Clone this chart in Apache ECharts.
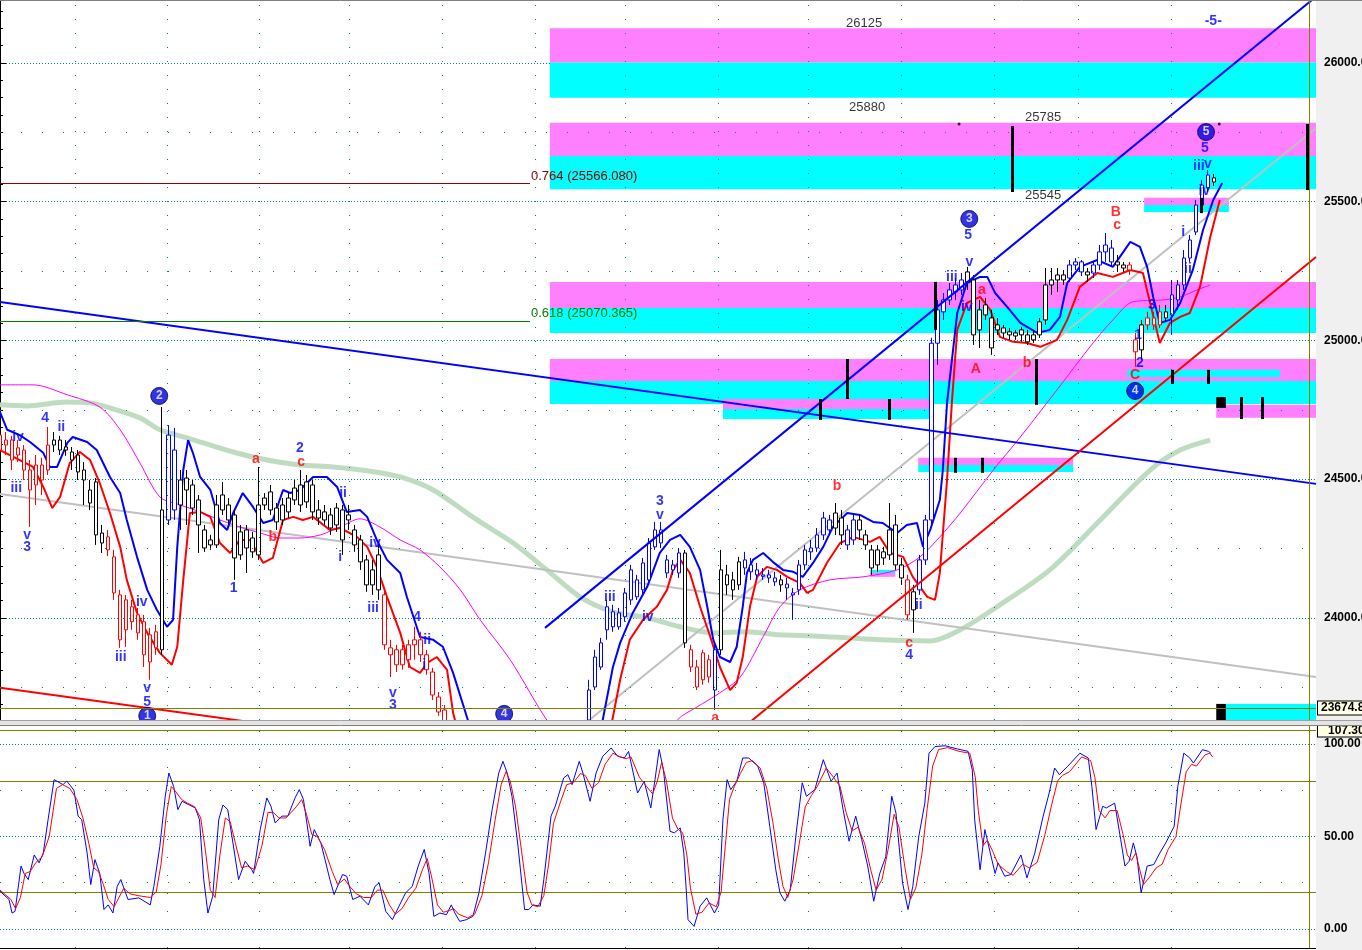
<!DOCTYPE html>
<html><head><meta charset="utf-8">
<script src="https://cdn.jsdelivr.net/npm/echarts@6/dist/echarts.min.js"></script>
<style>html,body{margin:0;padding:0;background:#fff;overflow:hidden}#c{width:1362px;height:950px}</style>
</head><body><div id="c"></div>
<script>
// ---------------- DATA ----------------
const N_BARS = 220;
// [open, close, low, high] per bar
const ohlc = [
[24659,24605,24577,24685],[24623,24641,24587,24670],[24641,24569,24533,24656],[24587,24613,24562,24641],[24605,24533,24497,24623],
[24533,24461,24328,24569],[24479,24551,24407,24587],[24551,24497,24443,24577],[24533,24623,24515,24688],[24623,24641,24598,24670],
[24641,24605,24587,24656],[24605,24616,24584,24641],[24598,24569,24533,24616],[24587,24526,24497,24605],[24533,24497,24407,24562],
[24461,24414,24389,24497],[24299,24490,24263,24504],[24306,24270,24234,24335],[24292,24245,24223,24317],[24090,24220,24065,24245],
[24083,23921,23892,24101],[24065,23957,23896,24083],[24040,23986,23957,24065],[24011,23946,23921,24036],[23986,23867,23823,24011],
[23939,23841,23777,23964],[23950,23892,23867,23975],[23885,24389,23867,24760],[24353,24659,24335,24695],[24389,24605,24353,24685],
[24497,24407,24317,24533],[24504,24461,24335,24533],[24479,24396,24371,24497],[24425,24335,24234,24443],[24317,24252,24238,24335],
[24263,24281,24245,24299],[24263,24407,24252,24443],[24443,24389,24371,24490],[24407,24353,24335,24432],[24371,24216,24137,24389],
[24227,24310,24209,24335],[24317,24252,24162,24335],[24238,24288,24216,24310],[24227,24407,24209,24544],[24407,24432,24389,24450],
[24454,24389,24371,24479],[24396,24346,24317,24414],[24353,24407,24335,24432],[24382,24432,24360,24454],[24425,24468,24407,24497],
[24479,24407,24382,24533],[24418,24490,24396,24515],[24479,24382,24353,24497],[24389,24360,24335,24425],[24382,24353,24335,24407],
[24371,24324,24299,24396],[24335,24396,24310,24414],[24389,24281,24227,24407],[24353,24371,24317,24407],[24317,24263,24238,24335],
[24281,24202,24173,24299],[24209,24119,24094,24227],[24119,24173,24083,24209],[24227,24101,24065,24263],[24083,23903,23885,24101],
[23892,23867,23787,23921],[23885,23831,23805,23903],[23831,23885,23813,23903],[23849,23903,23820,23921],[23903,23921,23849,23968],
[23921,23867,23841,23950],[23867,23813,23795,23885],[23805,23722,23704,23820],[23715,23661,23647,23733],[23668,23614,23596,23686],
[23610,23560,23540,23620],[23560,23520,23490,23580],[23520,23470,23450,23540],[23470,23430,23400,23490],[23430,23390,23360,23450],
[23390,23350,23320,23410],[23350,23320,23290,23370],[23320,23290,23260,23340],[23290,23270,23240,23310],[23270,23250,23220,23290],
[23250,23280,23230,23300],[23280,23300,23260,23320],[23300,23290,23270,23330],[23290,23330,23280,23350],[23330,23360,23310,23380],
[23360,23400,23340,23420],[23400,23430,23380,23450],[23430,23470,23410,23490],[23470,23500,23450,23520],[23500,23540,23480,23560],
[23540,23570,23520,23590],[23570,23600,23550,23620],[23590,23615,23570,23625],[23632,23740,23614,23777],[23751,23859,23740,23885],
[23823,23910,23813,23928],[23957,24040,23921,24065],[24022,23968,23950,24047],[23968,24018,23957,24036],[24004,24090,23986,24108],
[24065,24173,24047,24191],[24137,24076,24065,24155],[24101,24198,24083,24216],[24137,24270,24119,24288],[24256,24317,24245,24346],
[24317,24270,24252,24346],[24209,24162,24144,24227],[24191,24173,24155,24209],[24162,24234,24144,24252],[24234,23910,23892,24245],
[23885,23823,23805,23903],[23823,23751,23740,23849],[23777,23874,23759,23885],[23849,23787,23766,23867],[23740,23885,23668,23903],
[23885,24173,23867,24245],[24155,24119,24083,24191],[24137,24101,24065,24166],[24119,24202,24101,24220],[24209,24180,24155,24238],
[24191,24166,24137,24216],[24173,24155,24137,24198],[24155,24150,24137,24180],[24155,24144,24126,24173],[24144,24130,24115,24166],
[24137,24119,24094,24155],[24122,24108,24065,24144],[24083,24090,23993,24108],[24101,24191,24083,24209],[24191,24245,24173,24263],
[24238,24252,24209,24281],[24252,24299,24238,24324],[24299,24360,24281,24382],[24353,24317,24299,24371],[24324,24378,24299,24414],
[24360,24299,24263,24389],[24317,24263,24245,24335],[24281,24353,24263,24371],[24353,24317,24281,24371],[24299,24263,24245,24317],
[24245,24180,24155,24263],[24191,24245,24166,24263],[24238,24216,24191,24256],[24227,24317,24209,24414],[24335,24191,24173,24371],
[24191,24144,24119,24216],[24137,24011,23993,24155],[24029,24094,23946,24119],[24101,24209,24083,24227],[24209,24353,24191,24371],
[24353,24990,24335,25010],[24990,25110,24912,25146],[25103,25146,25074,25171],[25146,25182,25128,25207],[25175,25200,25146,25225],
[25182,25218,25164,25243],[25211,25247,25182,25265],[25218,25020,24984,25236],[25038,25110,24973,25146],[25128,25092,25074,25153],
[25081,24973,24948,25110],[25038,25056,25020,25081],[25045,25027,25009,25056],[25031,25020,25002,25045],[25027,25016,25002,25038],
[25020,25038,24995,25049],[25020,24995,24984,25038],[25002,25020,24991,25038],[25020,25067,25009,25081],[25074,25200,25056,25261],
[25200,25218,25164,25261],[25218,25236,25175,25261],[25236,25218,25200,25254],[25225,25272,25211,25290],[25272,25283,25254,25297],
[25283,25247,25232,25290],[25247,25236,25211,25261],[25243,25272,25225,25283],[25272,25319,25254,25344],[25319,25344,25283,25387],
[25333,25283,25268,25362],[25283,25272,25247,25308],[25272,25261,25247,25283],[25272,25254,25236,25283],[25002,24959,24905,25027],
[24966,25056,24930,25074],[25056,25081,25038,25103],[25081,25056,25038,25103],[25056,25103,25045,25128],[25103,25081,25067,25128],
[25092,25164,25020,25218],[25146,25200,25110,25218],[25200,25297,25182,25326],[25297,25362,25283,25380],[25391,25488,25380,25506],
[25488,25560,25459,25578],[25550,25596,25535,25614],[25586,25571,25557,25600]
];
// trend state runs: R = down-trend, K = neutral, B = up-trend
const trendRuns = [['R',9],['K',9],['R',9],['K',1],['B',2],['K',34],['R',25],['B',25],['K',1],['R',4],['B',1],['K',4],
  ['B',6],['K',1],['B',8],['K',2],['B',2],['K',8],['R',1],['K',1],['B',8],['K',17],['B',3],['K',1],['B',4],['K',2],
  ['R',2],['K',1],['R',3],['K',1],['B',7]];

// overlays: [bar, price]
const upperEnv = [[0,24742],[1.2,24678],[3.3,24659],[5,24634],[7.2,24595],[8.3,24544],[9.5,24544],[11.2,24631],[12.1,24652],[14.5,24634],[16.1,24605],[18.3,24508],[20,24450],[21.1,24353],[22.8,24220],[24.5,24101],[26.1,24029],[27.8,23968],[28.8,23993],[29.5,24256],[30.5,24533],[31.3,24641],[32.1,24595],[33.3,24508],[35,24461],[36.6,24342],[37.8,24317],[38.8,24378],[40.4,24450],[42.1,24400],[43.8,24342],[45.4,24353],[47.1,24461],[48.3,24450],[49.9,24461],[52.1,24508],[54.4,24508],[56.1,24472],[57.7,24382],[59.9,24389],[61.1,24364],[62.7,24281],[64.4,24209],[66.6,24162],[67.7,24076],[69.9,23931],[72.1,23921],[73.7,23896],[75.4,23802],[77.7,23643],[79.9,23488],[88.2,23344],[96.5,23488],[100.3,23632],[102,23823],[103.2,23910],[105.3,24018],[107.7,24112],[109.8,24234],[111.5,24281],[113.2,24299],[114.8,24256],[116.5,24173],[117.7,24040],[118.7,23921],[119.8,23859],[121.5,23841],[122.6,23896],[123.6,24040],[124.3,24162],[125.3,24209],[127,24234],[128.6,24202],[130.3,24173],[132,24166],[133.6,24148],[135.3,24198],[137,24256],[138.6,24328],[141,24378],[143.1,24371],[145.3,24346],[146.9,24342],[149.3,24306],[150.9,24335],[152.6,24342],[153.6,24256],[154.8,24317],[156.4,24425],[156.9,24533],[157.6,24775],[159.3,25099],[160.9,25207],[163.1,25229],[164.3,25229],[165.6,25171],[167.6,25121],[169.8,25063],[172.6,25027],[174.7,25038],[176.4,25085],[177.6,25207],[179.7,25265],[182.6,25290],[185.2,25265],[188.1,25355],[189.7,25337],[190.9,25265],[191.9,25157],[193,25063],[194.7,25074],[196.4,25135],[198.5,25254],[200.2,25398],[201.9,25506],[203.4,25568]];
const lowerEnv = [[0,24605],[3.3,24569],[5.5,24544],[7.2,24472],[8.7,24396],[10,24436],[11.6,24558],[13.3,24598],[15,24569],[16.6,24486],[18.3,24378],[20,24256],[21.1,24137],[22.8,24018],[24.5,23946],[26.6,23874],[28.6,23831],[29.5,23896],[30.5,24137],[31.6,24378],[33.3,24382],[35,24364],[36.6,24270],[38.3,24234],[39.9,24281],[41.6,24281],[43.8,24198],[45.4,24216],[47.1,24353],[48.8,24364],[50.4,24353],[52.1,24364],[54.9,24317],[56.6,24324],[59.4,24292],[61.1,24256],[62.7,24184],[64.4,24076],[66.6,23946],[68.2,23823],[69.9,23802],[71.1,23838],[72.7,23859],[74.4,23813],[75.4,23658],[77.4,23488],[88.2,23308],[98.2,23452],[101.9,23632],[103.2,23777],[104.8,23921],[107,23993],[109.3,24040],[111,24101],[112,24173],[113.2,24209],[114.8,24162],[116.5,24040],[118.2,23932],[119.8,23823],[121.5,23740],[122.6,23766],[123.6,23859],[124.8,24040],[126,24148],[127.6,24184],[129.3,24173],[131,24148],[133.1,24126],[134.3,24090],[135.3,24101],[137.6,24198],[139.8,24270],[142,24292],[144.8,24274],[146.4,24292],[148.1,24234],[150.3,24220],[151.9,24148],[154.3,24076],[155.6,24065],[156.4,24162],[157.6,24497],[158.4,24775],[159.3,25038],[160.9,25135],[163.1,25157],[164.8,25110],[166.4,25013],[168.6,24995],[170.9,24991],[173.1,24977],[175.9,25002],[177.6,25074],[179.7,25193],[182.6,25243],[185.2,25229],[188.1,25254],[190.2,25243],[191.4,25135],[193,24991],[194.7,25063],[196.4,25085],[198,25099],[199.7,25193],[201.4,25373],[203,25506]];
const slowMA = [[0,24840],[5.5,24840],[11.2,24804],[16.6,24760],[20,24678],[23.3,24558],[26.6,24436],[30,24407],[33.3,24382],[36.6,24353],[39.9,24328],[43.3,24306],[46.6,24288],[49.9,24288],[53.3,24299],[56.6,24328],[59.9,24357],[63.2,24328],[66.6,24281],[69.9,24245],[73.2,24184],[76.6,24101],[79.9,23993],[84.9,23849],[91,23632],[99.8,23380],[108.2,23488],[112.7,23632],[116,23679],[119.8,23730],[123.2,23787],[127,23932],[129.8,24040],[133.1,24101],[138.1,24137],[143.6,24148],[149.3,24173],[153.1,24220],[156.4,24292],[159.8,24378],[165.3,24533],[169.8,24652],[175.9,24822],[181.9,24991],[185.2,25074],[188.5,25139],[193.5,25146],[196.4,25157],[199.2,25182],[201.4,25200]];
const longMA = [[0,24768],[4.5,24764],[11.1,24778],[15,24775],[18.3,24757],[23.3,24721],[26.6,24678],[31.1,24649],[38.8,24598],[44.4,24569],[49.9,24551],[55.4,24544],[61.1,24530],[66.6,24508],[72.1,24461],[77.7,24378],[79.9,24346],[85.4,24270],[91,24173],[96.5,24076],[102,24022],[107.7,24000],[113.2,23968],[118.7,23946],[124.3,23950],[129.8,23939],[135.3,23935],[141,23928],[146.4,23921],[154.8,23917],[159.8,23957],[166.4,24047],[174.7,24173],[183.1,24353],[191.4,24533],[196.4,24605],[201.4,24641]];

const grayDown = [[0,24447],[219,23787]];
const grayUp = [[93.2,23546],[219,25766]];
const blueDown = [[0,25139],[219,24483]];
const blueUp = [[90.7,23964],[219,26239]];
const redUp = [[123.1,23594],[219,25301]];
const redDown = [[0,23748],[41.6,23625]];

const fibLevels = [[25566.080,'0.764'],[25070.365,'0.618']];
const fibEndBar = 88.2;
const lastPrice = 23674.85;
const stochMaxLevel = 107.3;
const cursorBar = 217.8;

// zones: [barFrom, barTo, priceTop, priceBottom, kind]
const zones = [
[91.5,219,26125,26002,'pink'],[91.5,219,26002,25875,'cyan'],
[91.5,219,25785,25665,'pink'],[91.5,219,25665,25545,'cyan'],
[91.5,219,25211,25117,'pink'],[91.5,219,25117,25027,'cyan'],
[91.5,219,24933,24854,'pink'],[91.5,219,24854,24771,'cyan'],
[120.3,154.8,24789,24753,'pink'],[120.3,154.8,24753,24717,'cyan'],
[202.4,219,24768,24721,'pink'],
[152.8,178.6,24577,24551,'pink'],[152.8,178.6,24551,24526,'cyan'],
[190.4,204.5,25514,25488,'pink'],[190.4,204.5,25488,25463,'cyan'],
[187.6,213,24894,24868,'cyan'],
[144.8,149,24173,24162,'cyan'],[144.8,149,24162,24148,'pink'],
[204,219,23690,23610,'cyan'],
[202.4,204,24796,24757,'black'],[202.4,204,23690,23610,'black']
];
// [bar, priceTop, priceBottom]
const markerBars = [[168.4,25773,25535],[217.5,25780,25542],[141,24933,24789],[136.5,24789,24714],[148,24789,24714],
  [155.6,25211,25038],[172.4,24933,24768],[158.9,24577,24523],[163.4,24577,24523],[195,24894,24843],[201,24894,24843],
  [206.5,24796,24717],[210,24796,24717],[199.9,25514,25459]];
const dots = [[159.6,25780],[202.9,25780]];
const priceNotes = [[143.8,26144,'26125'],[144.3,25841,'25880'],[173.6,25805,'25785'],[173.6,25521,'25545']];

const waveLabels = [
[3,24652,'iv','b'],[7.5,24721,'4','b'],[10.2,24688,'ii','b'],[2.7,24468,'iii','b'],[4.5,24299,'v','b'],[4.5,24256,'3','b'],
[23.6,24058,'iv','b'],[20.1,23859,'iii','b'],[24.5,23748,'v','b'],[24.5,23697,'5','b'],
[42.6,24573,'a','r'],[49.9,24613,'2','b'],[50.1,24562,'c','r'],[45.4,24292,'b','r'],[38.9,24108,'1','b'],
[57.1,24450,'ii','b'],[56.6,24220,'i','b'],[62.4,24270,'iv','b'],[62.1,24036,'iii','b'],[69.4,24004,'4','b'],
[71.1,23921,'ii','b'],[70.6,23831,'i','b'],[65.4,23730,'v','b'],[65.4,23686,'3','b'],
[101.5,24076,'iii','b'],[107.8,24004,'iv','b'],[109.8,24422,'3','b'],[109.8,24371,'v','b'],[119,23640,'a','r'],
[139.3,24476,'b','r'],[151.3,23910,'c','r'],[151.3,23867,'4','b'],[152.9,24047,'ii','b'],
[161.1,25380,'5','b'],[161.3,25283,'v','b'],[158.4,25229,'iii','b'],[163.4,25182,'a','r'],[160.9,25121,'iv','b'],
[162.4,24897,'A','r'],[170.9,24919,'b','r'],[185.7,25463,'B','r'],[185.9,25416,'c','r'],
[196.9,25391,'i','b'],[197.7,25258,'ii','b'],[189.4,25020,'1','b'],[189.7,24919,'2','b'],[188.9,24876,'C','r'],
[191.7,25128,'3','b'],[200.5,25694,'5','b'],[199.5,25629,'iii','b'],[201,25636,'v','b'],[200.4,25539,'iv','b'],
[201.9,26151,'-5-','b']
];
const circled = [[24.5,23647,'1'],[26.5,24800,'2'],[83.9,23654,'4'],[161.3,25438,'3'],[188.9,24818,'4'],[200.7,25751,'5']];

const gridBars = [12.6,27.8,43.1,58.1,73.6,89,104,119.5,134.5,150,165.4,179.4,194.9];
const priceMidLevels = [23750,24250,24750,25250,25750];

// stochastic %K / %D: [bar, value]
const stochK = [[0,20.4],[1.5,15.9],[2,8.6],[2.5,9.5],[3.5,34],[4,30],[4.7,26.7],[5.7,40],[6.5,35.7],[7.2,41],[8,59],[9,80.7],[9.2,81.6],[10.5,78],[11.1,80],[12.3,75],[13,61],[13.6,59],[14.5,41],[15.1,24],[15.8,37.5],[16.6,30],[17.3,10.5],[18,13],[18.8,8.6],[19.5,23],[20.1,26.7],[21.3,15.9],[23.1,16.8],[25,13],[25.6,23],[26.6,44.7],[27.5,71.7],[28.1,84.3],[28.9,77],[29.6,64.5],[30.3,69],[31.5,67],[32.5,65.4],[33.2,59],[33.9,26.7],[34.6,8.6],[35.4,17.7],[36.4,59],[37.1,67],[37.9,64.5],[38.6,50],[39.7,26.7],[40.8,36.6],[41.9,32],[42.2,30],[43.3,53.7],[44.4,70.8],[45.1,66.3],[45.8,57.3],[46.9,61],[47.9,61],[49.1,70.8],[49.8,75.3],[50.5,70],[51.3,52],[51.6,44.7],[52.3,53.7],[53.4,46.5],[54.9,26.7],[55.6,18.6],[57,29.4],[57.7,28.5],[58.7,15.9],[59.9,17.7],[61.3,13],[62.4,23],[63.1,24.9],[64.2,9.5],[65.3,5],[66.4,12.3],[67.5,19.5],[68.6,23],[69.6,34],[70.6,43],[71.4,30],[72.2,6.8],[73.2,8.6],[74.3,7.7],[75.1,13],[75.7,8.6],[76.5,4.1],[77.6,5],[78.7,6.8],[79.7,19.5],[80.8,41],[81.9,64.5],[83,84.3],[83.7,90.6],[84.4,84.3],[85.2,71.7],[86.2,44.7],[87.3,10.5],[88,10.5],[88.7,13],[89.9,12.3],[90.5,26.7],[91.7,61],[92.4,66.3],[93.8,81.6],[94.5,83.4],[95.2,78],[96.4,90.6],[97,84.3],[98.2,69],[99.2,84.3],[100.3,93.3],[101.7,97.8],[102.8,93.3],[103.9,92.4],[104.6,96],[106.1,73.5],[107.2,79.8],[108.3,65.4],[109,80.7],[109.7,97],[110.4,86],[111.5,52.8],[112.2,51.9],[113.2,54.6],[113.8,41],[114.2,21],[114.5,5],[115.5,1.4],[116.5,12.3],[117.6,16.8],[118.9,8.6],[119.6,13],[120.3,59],[121,80.7],[121.6,75.3],[122.6,79.8],[123.6,92.4],[124.6,92.4],[126.1,88],[127.1,79],[128.1,55.5],[129.1,32],[129.8,19.5],[130.6,15],[131.5,21],[132.5,51.9],[133.5,79],[134.2,71.7],[135.6,75.3],[137,91.5],[138.3,79.8],[139.3,84.3],[140.3,64.5],[141.3,47.4],[142.4,61],[143.4,48.3],[144.4,34],[145.4,15],[146.4,30],[147.4,39],[148.4,71.7],[149.1,62.7],[150.2,24.9],[151.1,10.5],[151.9,23],[152.9,50],[153.9,68],[154.6,95],[155.6,98.6],[157.3,99],[159.3,97.3],[161.1,96],[161.8,86],[162.2,59],[163.1,32],[163.9,53.7],[164.8,41],[165.6,30],[166.1,35.7],[167.2,28.5],[168.2,29.4],[169.9,40],[170.9,27.6],[172.2,41],[173.6,61],[174.6,73.5],[175.5,87],[176.3,83.4],[177.7,88],[179.7,95],[181.1,92.4],[181.7,77],[182.4,53.7],[183.5,66.3],[184.1,65.4],[185.5,68],[186.5,48.3],[187.2,34],[187.9,36.6],[188.6,46.5],[189.2,39],[189.9,19.5],[190.9,34],[192,34.8],[193,41],[194,46.5],[195.4,55.5],[196,77],[197,95],[198,92.4],[198.6,89.7],[200.1,96.9],[201.1,96],[201.5,95]];
const stochD = [[0,21],[1.8,16],[2.6,11],[3.4,17],[4.2,30],[5,31],[6,36],[7,39],[8.2,50],[9.4,76],[10.4,78],[11.6,76],[12.8,70],[13.8,60],[14.8,46],[15.6,33],[16.4,31],[17.2,24],[18,16],[19,12],[19.8,17],[20.6,22],[21.6,19],[23,18],[25,17],[26,20],[26.8,35],[27.7,62],[28.5,77],[29.3,74],[30.2,70],[31.2,68],[32.4,66],[33.4,60],[34.2,42],[35,21],[35.8,17],[36.6,40],[37.5,60],[38.3,58],[39.2,46],[40.2,33],[41.2,34],[42.4,32],[43.6,45],[44.6,63],[45.5,63],[46.4,60],[47.6,60],[49.3,66],[50.2,70],[51,62],[51.9,51],[52.8,50],[54,43],[55.3,31],[56.2,24],[57.3,27],[58.2,23],[59.3,19],[60.5,17],[61.8,17],[62.8,21],[63.7,21],[64.8,13],[65.8,8],[66.9,11],[68,17],[69.2,22],[70.3,32],[71.1,38],[71.9,27],[72.8,13],[73.8,9],[74.8,10],[75.5,11],[76.3,8],[77.8,6],[79,8],[80.2,18],[81.3,36],[82.4,59],[83.4,78],[84.2,85],[84.9,80],[85.8,66],[86.8,42],[87.7,20],[88.5,13],[89.5,12],[90.5,18],[91.3,35],[92.1,57],[93.2,68],[94.3,78],[95.4,79],[96.6,84],[97.4,83],[98.5,76],[99.6,79],[100.7,89],[102,95],[103.2,93],[104.2,92],[105,93],[106.4,82],[107.6,77],[108.6,73],[109.4,80],[110.1,90],[110.9,80],[111.9,60],[112.8,54],[113.6,52],[114.3,40],[114.9,22],[115.8,8],[116.8,9],[118,14],[119.2,12],[120,20],[120.7,45],[121.4,70],[122.2,77],[123.2,84],[124.2,90],[125.2,91],[126.5,87],[127.6,76],[128.6,58],[129.5,38],[130.3,23],[131.1,17],[132,27],[133,46],[134,66],[135,72],[136,77],[137.5,87],[138.7,82],[139.8,77],[140.8,63],[141.8,53],[142.8,55],[143.9,46],[144.9,32],[145.8,21],[146.8,27],[147.8,43],[148.8,62],[149.6,55],[150.6,33],[151.5,16],[152.4,22],[153.4,40],[154.3,65],[155.2,88],[156.2,97],[157.7,98],[159.6,96],[161.4,95],[162.3,82],[162.8,64],[163.6,45],[164.3,48],[165.2,42],[166.1,35],[167.5,31],[168.6,29],[170.2,35],[171.3,33],[172.6,36],[173.9,51],[175,67],[176,80],[176.8,83],[178,85],[180,93],[181.5,91],[182.2,82],[182.9,64],[183.9,60],[184.7,64],[185.9,64],[186.9,51],[187.6,40],[188.3,37],[189,41],[189.6,33],[190.3,24],[191.3,28],[192.4,33],[193.4,35],[194.4,43],[195.7,50],[196.5,67],[197.4,85],[198.3,89],[199.1,88],[200.5,94],[201.3,95],[201.8,93]];
// overbought / oversold runs [barFrom, barTo]
const stochTopRuns = [[100,113.8],[137.5,142.5],[154.6,163.9],[178.4,182.9],[184.4,188.4],[198.9,201.9]];
const stochBottomRuns = [[0,9.2],[17.1,27.1],[61.6,70.6],[72.1,82.5],[89.5,91]];

// ---------------- STYLE / BUILD ----------------
const FONT = "'Liberation Sans', Arial, sans-serif";
const trendColor = {R:'#ff0000', K:'#000000', B:'#0000ff'};
const zoneColor = {pink:'#ff80ff', cyan:'#00ffff', black:'#000000'};
const labelColor = {b:'#0000ff', r:'#ff0000'};
const TEAL = '#008080', OLIVE = '#808000';

const trend = [];
trendRuns.forEach(([k, n]) => { for (let j = 0; j < n; j++) trend.push(k); });
const bars = Array.from({length: N_BARS}, (_, i) => String(i));
const candleData = ohlc.map((v, i) => {
  const c = trendColor[trend[i]] || '#000';
  return {value: v, itemStyle: {color: '#ffffff', color0: c, borderColor: c, borderColor0: c, borderWidth: 1}};
});

function line(data, color, width, z, smooth) {
  return {type: 'line', xAxisIndex: 1, yAxisIndex: 0, data, symbol: 'none', smooth: smooth || false,
    lineStyle: {color, width}, z, silent: true};
}

const option = {
  animation: false,
  backgroundColor: '#ffffff',
  grid: [
    {left: 0, top: 0, width: 1316, height: 720, containLabel: false, outerBoundsMode: 'none'},
    {left: 0, top: 726, width: 1316, height: 222, containLabel: false, outerBoundsMode: 'none'}
  ],
  xAxis: [
    {type: 'category', gridIndex: 0, data: bars, boundaryGap: false, show: false, position: 'bottom'},
    {type: 'value', gridIndex: 0, min: 0, max: 219, show: false, position: 'top'},
    {type: 'value', gridIndex: 1, min: 0, max: 219, show: false}
  ],
  yAxis: [
    {type: 'value', gridIndex: 0, position: 'right', min: 23632, max: 26227, splitNumber: 5, minInterval: 500, maxInterval: 500,
      axisLine: {show: true, lineStyle: {color: '#000', width: 1}},
      axisTick: {show: true, length: 6, lineStyle: {color: '#000'}},
      minorTick: {show: true, splitNumber: 8, length: 3, lineStyle: {color: '#000'}},
      axisLabel: {margin: 8, color: '#000', fontSize: 12, fontWeight: 'bold', fontFamily: FONT,
        formatter: v => (Math.abs(v % 500) < 1e-6 ? v.toFixed(2) : '')},
      splitLine: {show: true, lineStyle: {color: TEAL, type: [1, 2], width: 1}}},
    {type: 'value', gridIndex: 1, position: 'right', min: -10.3, max: 109.7, splitNumber: 2, minInterval: 50, maxInterval: 50,
      axisLine: {show: true, lineStyle: {color: '#000', width: 1}},
      axisTick: {show: true, length: 6, lineStyle: {color: '#000'}},
      minorTick: {show: true, splitNumber: 10, length: 2, lineStyle: {color: '#000'}},
      axisLabel: {margin: 8, color: '#000', fontSize: 12, fontWeight: 'bold', fontFamily: FONT,
        formatter: v => (Math.abs(v % 50) < 1e-6 ? v.toFixed(2) : '')},
      splitLine: {show: false}}
  ],
  graphic: [
    {type: 'rect', shape: {x: 1316, y: 0, width: 46, height: 950}, style: {fill: '#f0f0f0'}, z: -10, silent: true},
    {type: 'rect', shape: {x: 0, y: 720, width: 1316, height: 230}, style: {fill: '#ffffff'}, z: 3, silent: true},
    {type: 'rect', shape: {x: 0, y: 720, width: 1362, height: 6}, style: {fill: '#e4e4e4'}, z: 7, silent: true},
    {type: 'line', shape: {x1: 0, y1: 720.5, x2: 1362, y2: 720.5}, style: {stroke: '#a0a0a0', lineWidth: 1}, z: 7, silent: true},
    {type: 'line', shape: {x1: 0, y1: 725.5, x2: 1362, y2: 725.5}, style: {stroke: '#808080', lineWidth: 1}, z: 7, silent: true},
    {type: 'line', shape: {x1: 0, y1: 0.5, x2: 1362, y2: 0.5}, style: {stroke: '#808080', lineWidth: 1}, z: 10, silent: true},
    {type: 'line', shape: {x1: 0, y1: 948.5, x2: 1316, y2: 948.5}, style: {stroke: '#000', lineWidth: 1}, z: 10, silent: true}
  ],
  series: [
    // grid dotted lines (main)
    {type: 'line', xAxisIndex: 1, yAxisIndex: 0, data: [], z: 1, silent: true,
      markLine: {silent: true, symbol: ['none', 'none'], label: {show: false},
        data: gridBars.map(b => ({xAxis: b, lineStyle: {color: TEAL, type: [1, 13], width: 1}}))
          .concat(priceMidLevels.map(p => ({yAxis: p, lineStyle: {color: TEAL, type: [1, 20], width: 1}})))}},
    // zones
    {type: 'line', xAxisIndex: 1, yAxisIndex: 0, data: [], z: 1.5, silent: true,
      markArea: {silent: true,
        data: zones.map(([x1, x2, t, b, k]) => [
          {xAxis: x1, yAxis: t, itemStyle: {color: zoneColor[k], opacity: 1, borderWidth: 0}},
          {xAxis: x2, yAxis: b}])}},
    line(longMA, '#c0dcc0', 5, 1.8, 0.3),
    line(grayDown, '#c0c0c0', 2, 1.9),
    line(grayUp, '#c0c0c0', 2, 1.9),
    line(slowMA, '#ff00ff', 1, 2, 0.3),
    line(upperEnv, '#0000ff', 2, 2.05),
    line(lowerEnv, '#ff0000', 2, 2.05),
    {type: 'candlestick', xAxisIndex: 0, yAxisIndex: 0, data: candleData, barWidth: 4, large: false, clip: true, z: 2.2, silent: true},
    // markers, fib lines, price line, cursor line
    {type: 'line', xAxisIndex: 1, yAxisIndex: 0, data: [], z: 2.3, silent: true,
      markLine: {silent: true, symbol: ['none', 'none'], label: {show: false},
        data: markerBars.map(([b, t, bt]) => [
            {coord: [b, t], lineStyle: {color: '#000', width: 3, type: 'solid'}}, {coord: [b, bt]}])
          .concat(fibLevels.map(([p, r], i) => [
            {coord: [0, p], lineStyle: {color: i === 0 ? '#900000' : '#008000', width: 1, type: 'solid'},
              label: {show: true, position: 'end', distance: 1, offset: [0, -7],
                formatter: r + ' (' + p.toFixed(3) + ')', color: i === 0 ? '#800000' : '#008000', fontSize: 13, fontFamily: FONT}},
            {coord: [fibEndBar, p]}]))
          .concat([
            {yAxis: lastPrice, lineStyle: {color: OLIVE, width: 1, type: 'solid'},
              label: {show: true, position: 'end', distance: 2, formatter: lastPrice.toFixed(2), color: '#000',
                fontSize: 12, fontWeight: 'bold', fontFamily: FONT, backgroundColor: '#ffffe1',
                borderColor: '#000', borderWidth: 1, padding: [1, 3, 0, 3]}},
            {xAxis: cursorBar, lineStyle: {color: OLIVE, width: 1, type: 'solid'}}
          ])}},
    line(blueDown, '#0000ff', 2, 2.4),
    line(blueUp, '#0000ff', 2, 2.4),
    line(redUp, '#ff0000', 2, 2.4),
    line(redDown, '#ff0000', 2, 2.4),
    {type: 'scatter', xAxisIndex: 1, yAxisIndex: 0, z: 2.45, silent: true, symbolSize: 3,
      itemStyle: {color: '#000'}, data: dots},
    // text notes
    {type: 'scatter', xAxisIndex: 1, yAxisIndex: 0, z: 2.5, silent: true, symbolSize: 1,
      itemStyle: {color: 'rgba(0,0,0,0)'},
      label: {show: true, position: 'inside', formatter: '{b}', fontFamily: FONT},
      data: priceNotes.map(([b, p, t]) => ({name: t, value: [b, p], label: {color: '#000', fontSize: 13}}))
        .concat(waveLabels.map(([b, p, t, c]) => ({name: t, value: [b, p],
          label: {color: labelColor[c], fontSize: 14, fontWeight: 'bold'}})))},
    {type: 'scatter', xAxisIndex: 1, yAxisIndex: 0, z: 2.6, silent: true, symbol: 'circle', symbolSize: 17,
      itemStyle: {color: '#0000dd', borderColor: '#000040', borderWidth: 1},
      label: {show: true, position: 'inside', formatter: '{b}', color: '#fff', fontSize: 12, fontWeight: 'bold', fontFamily: FONT},
      data: circled.map(([b, p, t]) => ({name: t, value: [b, p]}))},
    // lower pane grid & zones
    {type: 'line', xAxisIndex: 2, yAxisIndex: 1, data: [], z: 5, silent: true,
      markLine: {silent: true, symbol: ['none', 'none'], label: {show: false},
        data: [0, 50, 100].map(v => ({yAxis: v, lineStyle: {color: TEAL, type: [1, 2], width: 1}}))
          .concat([25, 75].map(v => ({yAxis: v, lineStyle: {color: TEAL, type: [1, 20], width: 1}})))
          .concat(gridBars.map(b => ({xAxis: b, lineStyle: {color: TEAL, type: [1, 17], width: 1}})))
          .concat([20, 80].map(v => ({yAxis: v, lineStyle: {color: OLIVE, type: 'solid', width: 1}})))
          .concat([
            {yAxis: stochMaxLevel, lineStyle: {color: OLIVE, type: 'solid', width: 1},
              label: {show: true, position: 'end', distance: 2, formatter: stochMaxLevel.toFixed(2), color: '#000',
                fontSize: 12, fontWeight: 'bold', fontFamily: FONT, backgroundColor: '#ffffe1',
                borderColor: '#000', borderWidth: 1, padding: [0, 3, 0, 10]}},
            {xAxis: cursorBar, lineStyle: {color: OLIVE, type: 'solid', width: 1}}
          ])},
      markArea: {silent: true,
        data: stochTopRuns.map(([a, b]) => [{xAxis: a, yAxis: 109.2, itemStyle: {color: '#0000ff', opacity: 1}}, {xAxis: b, yAxis: 107}])
          .concat(stochBottomRuns.map(([a, b]) => [{xAxis: a, yAxis: -7, itemStyle: {color: '#0000ff', opacity: 1}}, {xAxis: b, yAxis: -9.2}]))}},
    {type: 'line', xAxisIndex: 2, yAxisIndex: 1, data: stochK, symbol: 'none', lineStyle: {color: '#0000ff', width: 1}, z: 6, silent: true},
    {type: 'line', xAxisIndex: 2, yAxisIndex: 1, data: stochD, symbol: 'none', lineStyle: {color: '#ff0000', width: 1}, z: 6, silent: true}
  ]
};

const chart = echarts.init(document.getElementById('c'), null, {renderer: 'canvas'});
chart.setOption(option);
</script>
</body></html>
